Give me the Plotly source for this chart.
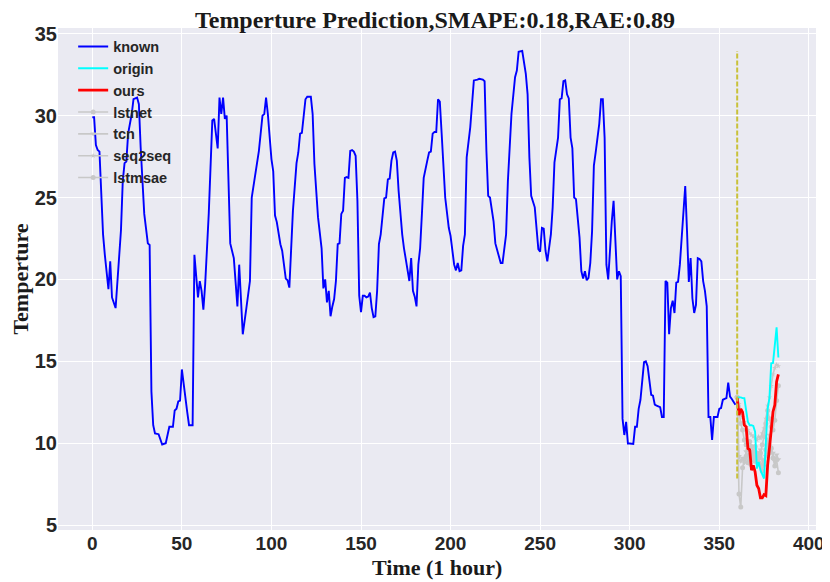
import plotly.graph_objects as go

# known temperature (hour, value)
known_hours = [0, 1, 2, 3, 4, 6, 7, 9, 10, 11, 13, 14, 16, 17, 18, 19, 20, 22, 23, 25,
               26, 27, 29, 31, 32, 33, 34, 35, 37, 39, 41, 43, 45, 46, 47, 48, 49, 50, 52, 53,
               54, 56, 57, 59, 60, 61, 62, 63, 65, 67, 68, 70, 71, 72, 73, 74, 75, 76, 77, 79,
               81, 82, 83, 84, 86, 88, 89, 92, 93, 95, 96, 97, 98, 100, 101, 102, 103, 105, 106, 108,
               109, 110, 111, 112, 114, 115, 116, 117, 119, 120, 122, 123, 124, 126, 128, 129, 130, 131, 132, 133,
               134, 135, 136, 137, 138, 139, 140, 141, 142, 143, 144, 145, 146, 147, 148, 149, 150, 151, 152, 153,
               154, 155, 156, 157, 158, 159, 160, 161, 163, 164, 165, 166, 167, 168, 169, 170, 171, 172, 173, 174,
               176, 177, 178, 179, 180, 181, 182, 183, 184, 185, 187, 188, 189, 190, 191, 192, 193, 194, 195, 197,
               199, 200, 202, 203, 204, 205, 206, 207, 208, 209, 211, 213, 215, 216, 218, 219, 220, 221, 222, 224,
               225, 226, 227, 228, 229, 231, 232, 234, 236, 237, 238, 240, 242, 243, 244, 245, 247, 248, 249, 250,
               251, 252, 253, 254, 256, 257, 258, 260, 261, 262, 263, 264, 265, 266, 267, 268, 269, 270, 272, 273,
               274, 275, 276, 277, 278, 279, 280, 281, 283, 284, 285, 286, 287, 288, 289, 290, 291, 292, 293, 294,
               295, 296, 297, 298, 299, 300, 302, 303, 304, 305, 306, 308, 309, 310, 312, 313, 314, 315, 317, 318,
               319, 320, 321, 322, 323, 324, 325, 326, 327, 328, 329, 331, 332, 333, 334, 335, 336, 337, 338, 339,
               340, 341, 342, 343, 344, 345, 346, 347, 349, 350, 351, 352, 353, 354, 355, 356, 357, 358, 359]
known_temp = [29.9, 29.9, 28.2, 27.9, 27.8, 22.75, 21.5, 19.4, 21.1, 18.9, 18.25, 19.7, 23.0, 26.0, 27.1, 27.2, 28.9, 30.1, 31.0, 31.1,
              30.7, 28.05, 24.0, 22.2, 22.1, 13.15, 11.1, 10.6, 10.55, 9.92, 10.0, 11.0, 11.0, 12.0, 12.1, 12.55, 12.6, 14.5, 12.55, 11.9,
              11.1, 11.1, 21.5, 18.9, 19.9, 19.3, 18.15, 19.7, 24.0, 29.7, 29.8, 28.0, 31.1, 30.1, 31.1, 29.8, 30.0, 26.0, 22.2, 21.3,
              18.35, 20.9, 18.25, 16.65, 18.25, 19.9, 25.0, 27.35, 27.85, 30.0, 30.1, 31.1, 30.1, 27.35, 26.6, 23.9, 23.5, 22.15, 21.75, 20.05,
              19.95, 19.5, 22.15, 24.2, 27.1, 27.75, 28.9, 28.95, 31.0, 31.15, 31.15, 30.1, 27.05, 23.8, 21.9, 19.45, 20.0, 18.6, 19.3, 17.75,
              18.35, 18.8, 19.9, 22.15, 22.2, 24.0, 24.2, 26.2, 26.25, 26.2, 27.85, 27.9, 27.8, 27.55, 24.8, 19.0, 18.0, 19.0, 19.0, 18.9,
              18.95, 19.2, 18.25, 17.7, 17.75, 19.3, 22.15, 22.75, 24.95, 25.0, 26.1, 26.15, 27.25, 27.75, 27.8, 27.25, 25.4, 23.8, 22.75, 21.9,
              20.7, 19.9, 21.3, 19.3, 18.95, 18.35, 20.9, 21.9, 24.0, 26.2, 27.25, 27.75, 27.8, 28.9, 29.0, 29.0, 31.0, 30.85, 28.95, 25.0,
              23.15, 22.65, 20.9, 20.55, 21.0, 20.5, 20.55, 22.05, 22.75, 27.45, 29.3, 32.15, 32.2, 32.25, 32.2, 32.1, 27.85, 25.1, 25.0, 23.55,
              22.2, 21.85, 21.5, 21.0, 21.0, 22.75, 26.0, 30.1, 32.35, 32.75, 33.9, 33.95, 32.55, 31.3, 27.45, 25.1, 24.4, 23.15, 21.85, 21.7,
              23.15, 23.1, 21.75, 21.1, 22.75, 24.4, 27.15, 28.65, 31.0, 31.05, 32.1, 32.15, 31.3, 31.05, 28.65, 28.0, 25.0, 24.9, 22.55, 20.5,
              20.05, 20.5, 19.95, 20.1, 21.0, 22.95, 26.95, 27.75, 29.5, 31.0, 31.0, 28.65, 20.9, 20.0, 21.9, 23.55, 24.8, 22.55, 20.0, 20.5,
              20.2, 11.5, 10.5, 11.3, 9.98, 9.98, 9.95, 11.0, 11.0, 12.1, 12.65, 14.95, 15.0, 14.7, 12.95, 12.9, 12.35, 12.3, 12.2, 11.6,
              11.6, 19.9, 19.8, 16.65, 18.25, 18.7, 17.95, 19.8, 19.85, 20.9, 22.75, 25.7, 22.95, 19.85, 21.3, 18.85, 17.95, 18.45, 21.3, 21.25,
              21.1, 19.9, 19.3, 18.35, 11.6, 11.6, 10.2, 11.6, 11.6, 12.1, 12.15, 12.65, 12.7, 12.75, 13.7, 12.85, 12.7, 12.5, 12.35]

# prediction window
pred_hours = list(range(360, 384))
origin = [12.8, 12.8, 12.8, 12.75, 12.75, 12.0, 11.3, 11.1, 11.1, 11.05, 10.7, 8.45,
          8.86, 8.35, 8.1, 7.84, 10.0, 12.1, 12.75, 14.88, 14.9, 15.8, 17.07, 15.23]
ours = [12.75, 11.72, 12.1, 11.9, 11.1, 11.0, 9.68, 9.6, 8.35, 8.65, 8.25, 7.43,
        7.23, 6.66, 6.66, 6.86, 6.8, 8.66, 9.68, 10.7, 11.92, 12.33, 13.76, 14.2]
lstnet = [12.8, 6.9, 6.1, 8.5, 9.0, 9.2, 8.8, 9.3, 9.0, 9.2, 8.9, 9.4,
          9.1, 8.7, 8.3, 8.9, 9.6, 10.2, 9.4, 9.7, 9.1, 8.6, 9.0, 8.2]
tcn = [12.8, 9.2, 8.9, 9.1, 8.8, 9.5, 9.2, 8.7, 9.0, 9.4, 9.1, 8.8,
       9.3, 9.6, 9.0, 8.6, 9.2, 9.8, 10.5, 9.6, 9.4, 8.9, 9.3, 9.0]
seq2seq = [12.8, 12.4, 12.0, 11.6, 11.3, 11.0, 10.8, 10.6, 10.5, 10.4, 10.3, 10.2,
           10.4, 10.3, 10.6, 10.9, 11.5, 12.3, 12.8, 13.5, 14.2, 14.6, 14.8, 14.7]
lstmsae = [12.8, 11.8, 11.2, 10.8, 10.2, 9.9, 9.6, 10.1, 9.8, 9.5, 9.8, 9.2,
           8.8, 9.4, 9.9, 10.4, 11.2, 12.0, 11.5, 11.0, 10.8, 11.4, 12.6, 13.5]

split_hour = 360
grey = '#c8c8c8'
txt = '#262626'

fig = go.Figure()

# baselines in grey, drawn under the main lines
baselines = [('lstnet', lstnet, 'circle'), ('tcn', tcn, 'triangle-down'),
             ('seq2seq', seq2seq, 'star'), ('lstmsae', lstmsae, 'circle')]
for i, (name, vals, sym) in enumerate(baselines):
    fig.add_trace(go.Scatter(x=pred_hours, y=vals, name=name, mode='lines+markers',
                             line=dict(color=grey, width=1.6),
                             marker=dict(color=grey, size=5 if sym != 'star' else 4, symbol=sym),
                             legendrank=4 + i))

fig.add_trace(go.Scatter(x=known_hours, y=known_temp, name='known', mode='lines',
                         line=dict(color='#0000ff', width=1.9), legendrank=1))
fig.add_trace(go.Scatter(x=pred_hours, y=origin, name='origin', mode='lines',
                         line=dict(color='#00ffff', width=1.9), legendrank=2))
fig.add_trace(go.Scatter(x=pred_hours, y=ours, name='ours', mode='lines',
                         line=dict(color='#ff0000', width=2.8), legendrank=3))

# split marker between known and predicted
fig.add_trace(go.Scatter(x=[split_hour, split_hour], y=[min(origin), max(known_temp)],
                         mode='lines', showlegend=False, hoverinfo='skip',
                         line=dict(color='#c9c13a', width=2, dash='5px,2px')))

# the page body adds an 8px margin, so the figure is drawn 8px smaller
serif_bold = dict(family='Liberation Serif', color='#1a1a1a', weight='bold')
fig.update_layout(
    width=822, height=574,
    margin=dict(l=50, r=14, t=20, b=52),
    paper_bgcolor='white', plot_bgcolor='#eaeaf2',
    title=dict(text='Temperture Prediction,SMAPE:0.18,RAE:0.89', x=0.5195, xanchor='center',
               y=1.0, yanchor='top', yref='container', pad=dict(t=3, b=0),
               font=dict(size=24, **serif_bold)),
    legend=dict(x=0.02, y=0.995, xanchor='left', yanchor='top', bgcolor='rgba(0,0,0,0)',
                font=dict(family='Liberation Sans', size=14.5, color=txt, weight='bold'),
                tracegroupgap=0),
    showlegend=True,
    annotations=[dict(text='Time (1 hour)', xref='paper', yref='paper', x=0.5, y=-0.074,
                      xanchor='center', yanchor='middle', showarrow=False,
                      font=dict(size=22, **serif_bold))],
)
fig.update_xaxes(range=[-19.15, 404], tickvals=list(range(0, 401, 50)), automargin=False,
                 showgrid=True, gridcolor='white', gridwidth=1, zeroline=False, ticks='',
                 tickfont=dict(family='Liberation Sans', size=19, color=txt, weight='bold'))
fig.update_yaxes(range=[4.7, 35.35], tickvals=list(range(5, 36, 5)), automargin=False,
                 showgrid=True, gridcolor='white', gridwidth=1, zeroline=False, ticks='',
                 tickfont=dict(family='Liberation Sans', size=20, color=txt, weight='bold'),
                 title=dict(text='Temperture', font=dict(size=22, **serif_bold)))

fig.write_html('out.html')
